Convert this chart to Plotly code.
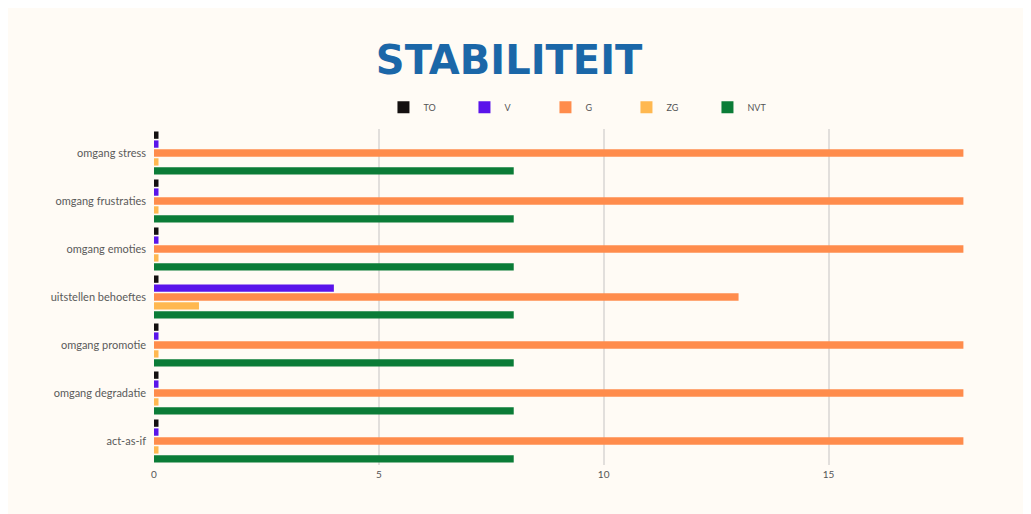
import plotly.graph_objects as go

categories = ["omgang stress", "omgang frustraties", "omgang emoties",
              "uitstellen behoeftes", "omgang promotie", "omgang degradatie",
              "act-as-if"]

series_names = ["TO", "V", "G", "ZG", "NVT"]
to_vals = [0.1, 0.1, 0.1, 0.1, 0.1, 0.1, 0.1]
v_vals = [0.1, 0.1, 0.1, 4, 0.1, 0.1, 0.1]
g_vals = [18, 18, 18, 13, 18, 18, 18]
zg_vals = [0.1, 0.1, 0.1, 1, 0.1, 0.1, 0.1]
nvt_vals = [8, 8, 8, 8, 8, 8, 8]

colors = ["#141010", "#5a14ea", "#ff8c4c", "#ffb850", "#0b7c37"]

fig = go.Figure()
for name, vals, col in zip(series_names, [to_vals, v_vals, g_vals, zg_vals, nvt_vals], colors):
    fig.add_trace(go.Bar(name=name, x=vals, y=categories, orientation="h",
                         marker=dict(color=col, line=dict(width=0))))

fig.update_layout(
    width=1031, height=514,
    paper_bgcolor="#fffbf5",
    plot_bgcolor="#fffbf5",
    barmode="group",
    bargap=0.07,
    bargroupgap=0.18,
    margin=dict(l=146, r=33, t=121, b=57),
    font=dict(family="Lato", color="#5a5a5a", size=10),
    title=dict(text="<b>STABILITEIT</b>", x=0.486, xref="container", xanchor="center",
               y=0.899, yref="container", yanchor="middle",
               font=dict(family="DejaVu Sans", size=40, color="#1b67a8")),
    legend=dict(orientation="h", x=0.507, xanchor="center", y=1.065, yanchor="middle",
                font=dict(size=9, color="#555555"), entrywidth=36,
                bgcolor="rgba(0,0,0,0)"),
    showlegend=True,
)
fig.update_xaxes(showgrid=True, gridcolor="#e2dfdc", gridwidth=2, zeroline=False,
                 tickvals=[0, 5, 10, 15], tickfont=dict(size=10, color="#555555"),
                 ticklabelstandoff=2, showline=False)
fig.update_yaxes(autorange="reversed", showgrid=False, ticks="", ticklabelstandoff=7,
                 tickfont=dict(size=11, color="#5a5a5a"))

fig.write_html("out.html")
